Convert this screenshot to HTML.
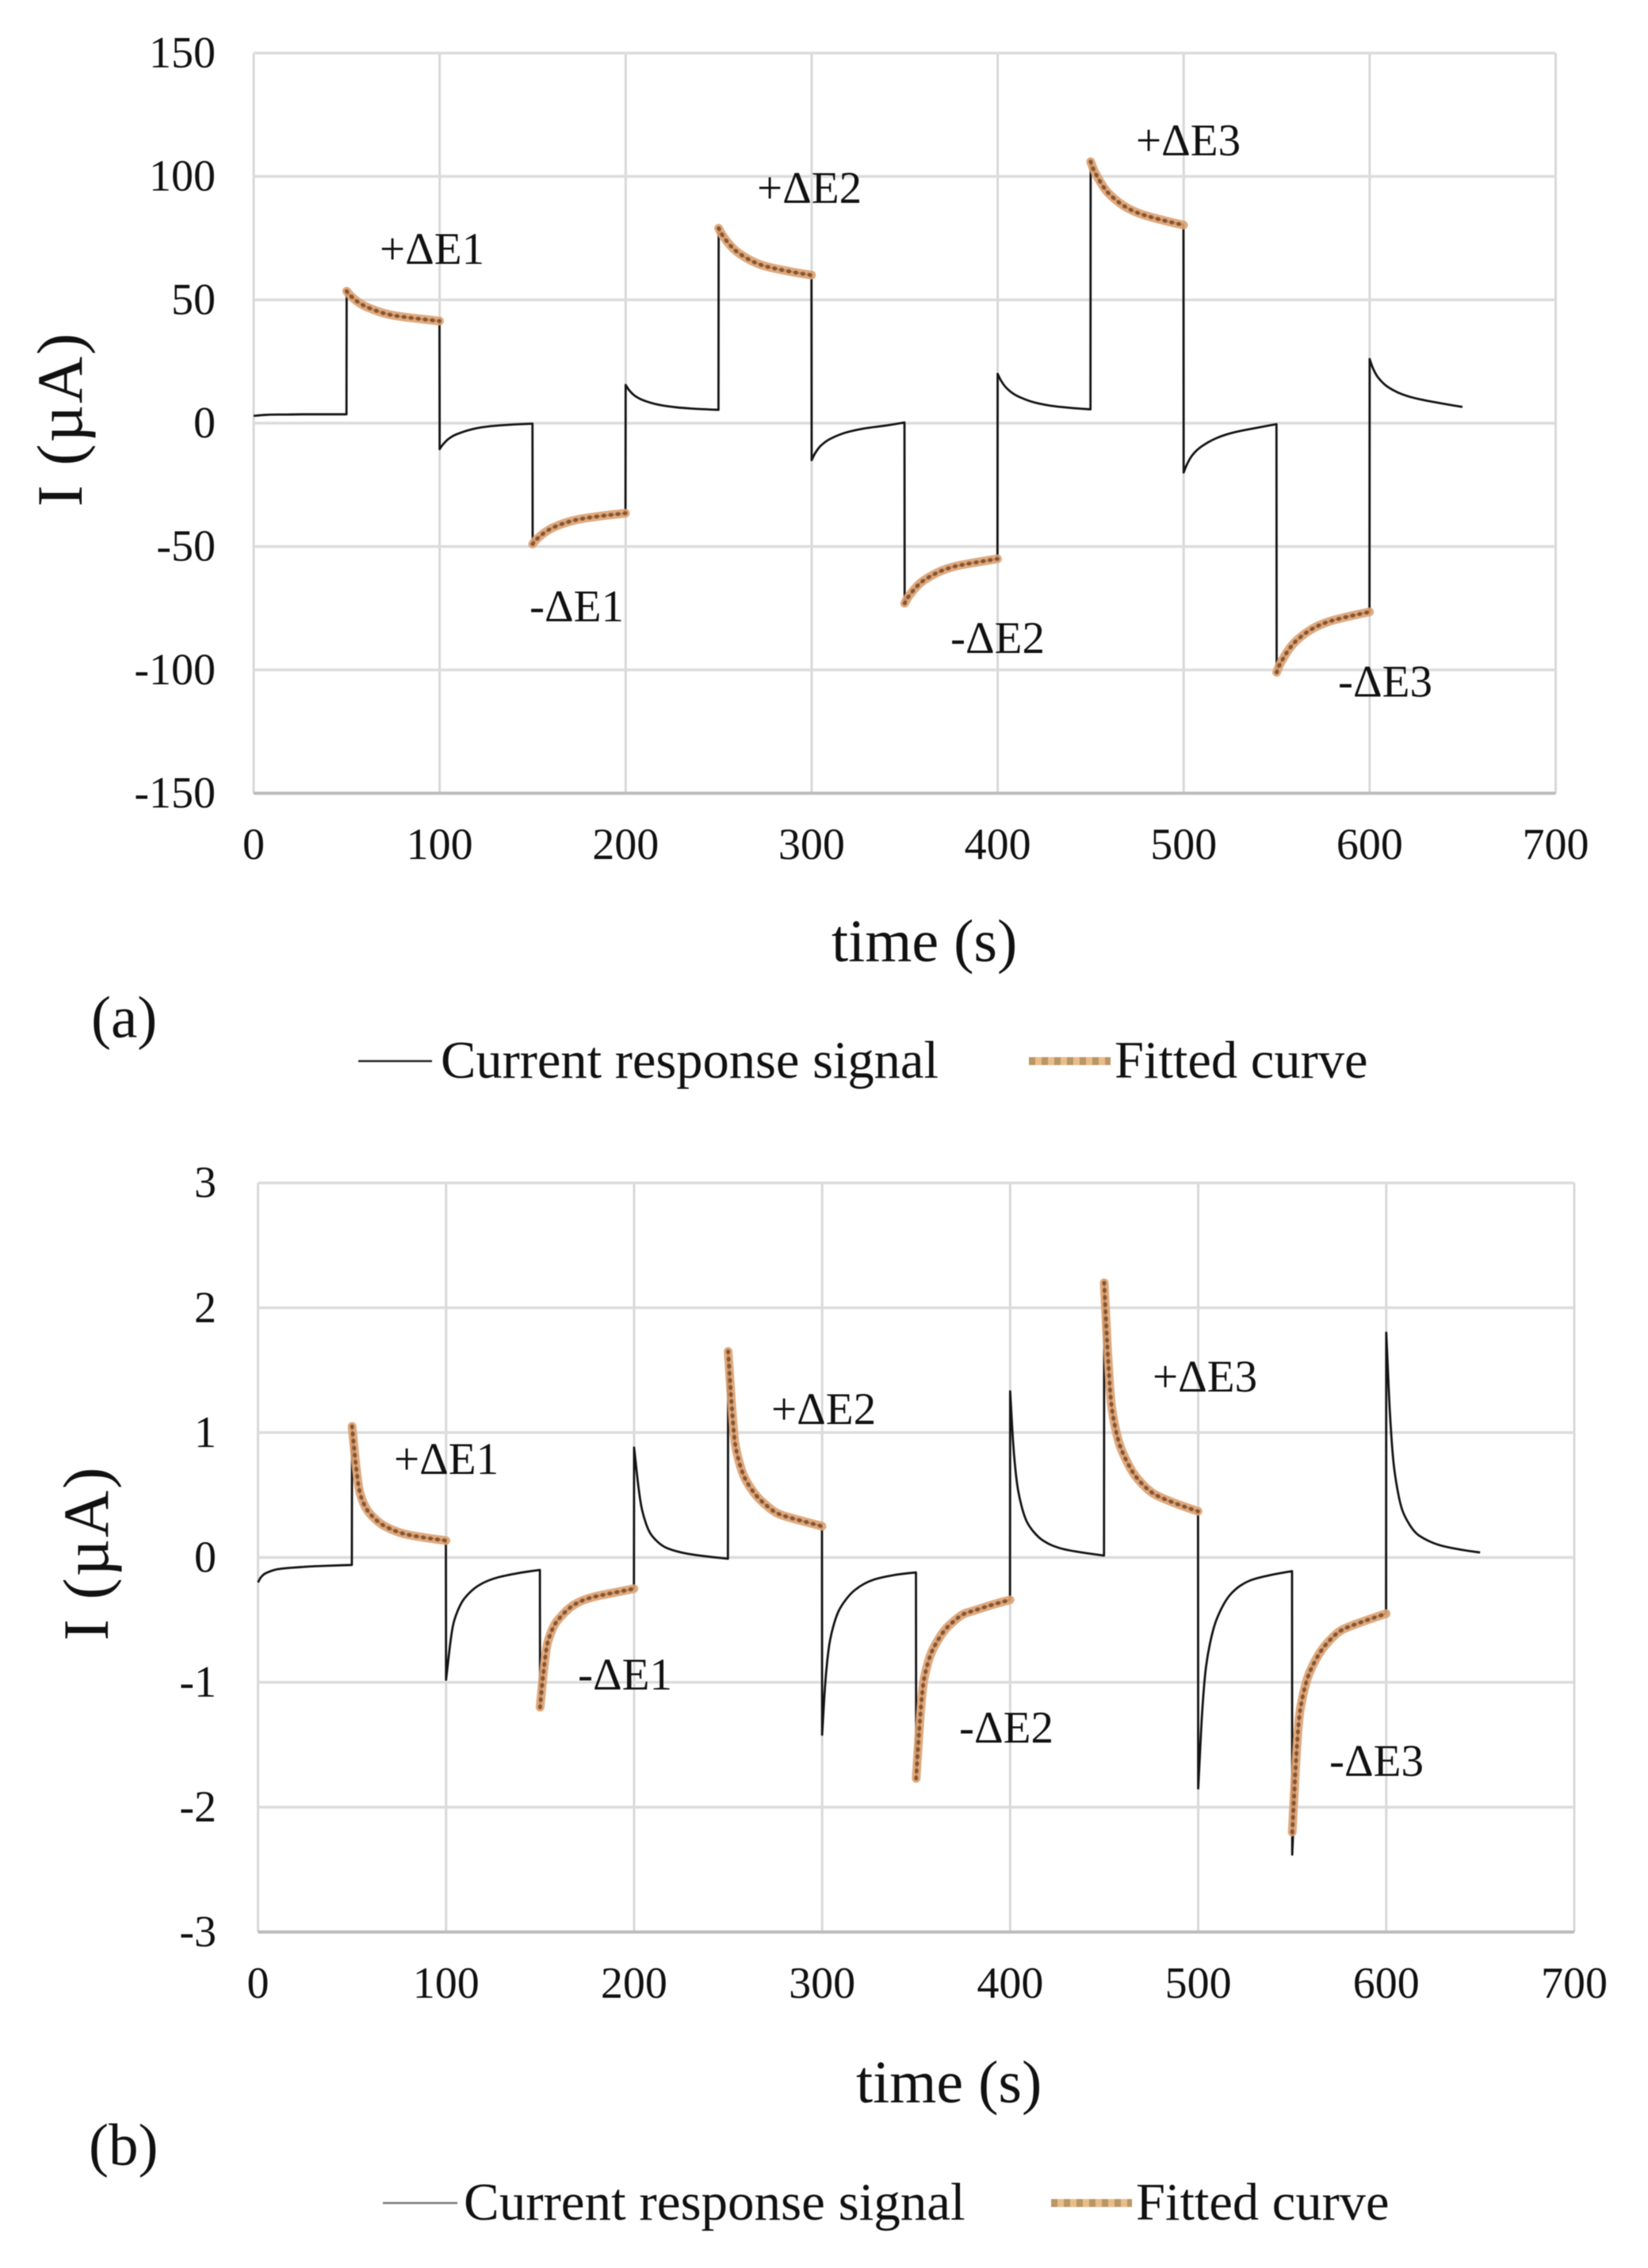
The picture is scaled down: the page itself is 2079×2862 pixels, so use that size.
<!DOCTYPE html>
<html lang="en">
<head>
<meta charset="utf-8">
<title>Current response and fitted curves</title>
<style>
html,body{margin:0;padding:0;background:#fff;}
svg{display:block;filter:blur(0.5px);}
text{font-family:"Liberation Serif","DejaVu Serif",serif;fill:#111;}
.tick{font-size:56px;}
.anno{font-size:57px;}
.title{font-size:76px;}
.ytitle{font-size:82px;letter-spacing:2px;}
.panel{font-size:75px;}
.legend{font-size:66.5px;}
</style>
</head>
<body>
<svg id="figure" xmlns="http://www.w3.org/2000/svg" width="2079" height="2862" viewBox="0 0 2079 2862">
  <rect width="2079" height="2862" fill="#ffffff"/>
  <g id="chart-a"></g>
  <g id="chart-b"></g>

  <text class="ytitle" text-anchor="middle" transform="translate(103,529) rotate(-90)">I (µA)</text>
  <text class="title" x="1049" y="1213">time (s)</text>
  <text class="panel" x="115" y="1309">(a)</text>
  <text class="anno" x="479" y="333">+ΔE1</text>
  <text class="anno" x="955" y="256">+ΔE2</text>
  <text class="anno" x="1433" y="196">+ΔE3</text>
  <text class="anno" x="668" y="784">-ΔE1</text>
  <text class="anno" x="1199" y="824">-ΔE2</text>
  <text class="anno" x="1688" y="879">-ΔE3</text>

  <g>
    <line x1="452" y1="1339" x2="545" y2="1339" stroke="#222" stroke-width="2.5"/>
    <text class="legend" x="556" y="1360">Current response signal</text>
    <line x1="1298" y1="1339" x2="1401" y2="1339" stroke="#e9bd8a" stroke-width="10"/>
    <line x1="1298" y1="1339" x2="1401" y2="1339" stroke="#a98a5a" stroke-width="10" stroke-dasharray="8 8" opacity="0.75"/>
    <text class="legend" x="1406" y="1360">Fitted curve</text>
  </g>

  <text class="ytitle" text-anchor="middle" transform="translate(136,1960) rotate(-90)">I (µA)</text>
  <text class="title" x="1080" y="2653">time (s)</text>
  <text class="panel" x="112" y="2732">(b)</text>
  <text class="anno" x="497" y="1860">+ΔE1</text>
  <text class="anno" x="973" y="1797">+ΔE2</text>
  <text class="anno" x="1454" y="1756">+ΔE3</text>
  <text class="anno" x="729" y="2132">-ΔE1</text>
  <text class="anno" x="1210" y="2199">-ΔE2</text>
  <text class="anno" x="1677" y="2241">-ΔE3</text>

  <g>
    <line x1="483" y1="2780" x2="577" y2="2780" stroke="#777" stroke-width="2.5"/>
    <text class="legend" x="585" y="2801" style="font-size:67px">Current response signal</text>
    <line x1="1326" y1="2780" x2="1428" y2="2780" stroke="#e9bd8a" stroke-width="10"/>
    <line x1="1326" y1="2780" x2="1428" y2="2780" stroke="#a98a5a" stroke-width="10" stroke-dasharray="8 8" opacity="0.75"/>
    <text class="legend" x="1433" y="2801">Fitted curve</text>
  </g>
</svg>

<script>
const xTickValues = [0, 100, 200, 300, 400, 500, 600, 700];
const yTickValuesA = [150, 100, 50, 0, -50, -100, -150];
const yTickValuesB = [3, 2, 1, 0, -1, -2, -3];

const signalSegmentStarts = [0, 50, 100, 150, 200, 250, 300, 350, 400, 450, 500, 550, 600];
const fitSegmentStarts = [50, 150, 250, 350, 450, 550];
const sampleOffsets = [0, 1, 2, 3.5, 5, 7.5, 10, 15, 20, 25, 30, 40, 49.9];

const signalValuesA = [
  3.0, 3.0, 3.1, 3.2, 3.3, 3.4, 3.5, 3.5, 3.5, 3.6, 3.6, 3.6, 3.6,
  53.5, 52.6, 51.7, 50.7, 49.7, 48.4, 47.3, 45.8, 44.5, 43.7, 43.1, 42.2, 41.4,
  -10.5, -9.4, -8.4, -7.2, -6.2, -5, -4.2, -2.9, -2, -1.4, -1, -0.5, -0.2,
  -49, -48, -47.1, -46.1, -45.1, -43.8, -42.6, -41, -39.8, -38.9, -38.3, -37.3, -36.5,
  15.5, 14.3, 13.2, 12, 11, 9.9, 9.1, 7.9, 7.1, 6.6, 6.2, 5.7, 5.4,
  79, 77.5, 76.2, 74.6, 73.1, 71, 69.3, 66.8, 64.9, 63.6, 62.7, 61.2, 60,
  -15, -13.3, -12, -10.3, -9, -7.5, -6.3, -4.6, -3.4, -2.6, -1.9, -1, 0.3,
  -73, -71.6, -70.3, -68.9, -67.4, -65.4, -63.8, -61.5, -59.7, -58.4, -57.5, -56.2, -55,
  20, 18.3, 17, 15.3, 14, 12.4, 11.2, 9.5, 8.3, 7.5, 6.9, 6.1, 5.6,
  106, 104, 102, 100, 98, 95, 92.8, 89.5, 87, 85.3, 84, 82, 80.3,
  -20, -18, -16.3, -14.2, -12.6, -10.6, -9.2, -6.9, -5.3, -4.1, -3.2, -1.8, -0.4,
  -101, -99, -97.3, -95.4, -93.4, -90.7, -88.5, -85.3, -82.9, -81.2, -79.9, -78.1, -76.5,
  26, 23.7, 21.8, 19.6, 18, 16, 14.5, 12.4, 11, 10, 9.2, 7.8, 6.6
];

const fitValuesA = [
  53.5, 52.6, 51.7, 50.7, 49.7, 48.4, 47.3, 45.8, 44.5, 43.7, 43.1, 42.2, 41.4,
  -49, -48, -47.1, -46.1, -45.1, -43.8, -42.6, -41, -39.8, -38.9, -38.3, -37.3, -36.5,
  79, 77.5, 76.2, 74.6, 73.1, 71, 69.3, 66.8, 64.9, 63.6, 62.7, 61.2, 60,
  -73, -71.6, -70.3, -68.9, -67.4, -65.4, -63.8, -61.5, -59.7, -58.4, -57.5, -56.2, -55,
  106, 104, 102, 100, 98, 95, 92.8, 89.5, 87, 85.3, 84, 82, 80.3,
  -101, -99, -97.3, -95.4, -93.4, -90.7, -88.5, -85.3, -82.9, -81.2, -79.9, -78.1, -76.5
];

const signalValuesB = [
  -0.2, -0.17, -0.15, -0.13, -0.12, -0.105, -0.095, -0.085, -0.08, -0.075, -0.07, -0.065, -0.06,
  1.05, 0.9, 0.74, 0.56, 0.47, 0.39, 0.34, 0.27, 0.23, 0.2, 0.18, 0.155, 0.135,
  -0.98, -0.85, -0.71, -0.55, -0.47, -0.38, -0.32, -0.245, -0.2, -0.17, -0.15, -0.12, -0.1,
  -1.2, -1.04, -0.89, -0.71, -0.63, -0.54, -0.49, -0.41, -0.36, -0.33, -0.31, -0.28, -0.25,
  0.88, 0.74, 0.6, 0.43, 0.33, 0.22, 0.16, 0.09, 0.06, 0.04, 0.025, 0.005, -0.01,
  1.65, 1.43, 1.19, 0.92, 0.81, 0.68, 0.6, 0.49, 0.42, 0.36, 0.33, 0.29, 0.25,
  -1.42, -1.15, -0.93, -0.72, -0.6, -0.47, -0.39, -0.29, -0.23, -0.19, -0.165, -0.135, -0.12,
  -1.77, -1.53, -1.3, -1.03, -0.91, -0.78, -0.7, -0.58, -0.51, -0.45, -0.43, -0.38, -0.34,
  1.33, 1.05, 0.82, 0.6, 0.47, 0.33, 0.25, 0.16, 0.11, 0.08, 0.06, 0.035, 0.015,
  2.2, 1.9, 1.6, 1.25, 1.1, 0.93, 0.83, 0.68, 0.59, 0.52, 0.48, 0.42, 0.37,
  -1.85, -1.55, -1.25, -0.95, -0.78, -0.6, -0.48, -0.33, -0.25, -0.2, -0.17, -0.135, -0.11,
  -2.38, -2.0, -1.65, -1.29, -1.15, -0.99, -0.89, -0.75, -0.66, -0.59, -0.555, -0.5, -0.45,
  1.8, 1.45, 1.13, 0.8, 0.62, 0.42, 0.32, 0.2, 0.15, 0.115, 0.09, 0.06, 0.04
];

const fitValuesB = [
  1.05, 0.9, 0.74, 0.56, 0.47, 0.39, 0.34, 0.27, 0.23, 0.2, 0.18, 0.155, 0.135,
  -1.2, -1.04, -0.89, -0.71, -0.63, -0.54, -0.49, -0.41, -0.36, -0.33, -0.31, -0.28, -0.25,
  1.65, 1.43, 1.19, 0.92, 0.81, 0.68, 0.6, 0.49, 0.42, 0.36, 0.33, 0.29, 0.25,
  -1.77, -1.53, -1.3, -1.03, -0.91, -0.78, -0.7, -0.58, -0.51, -0.45, -0.43, -0.38, -0.34,
  2.2, 1.9, 1.6, 1.25, 1.1, 0.93, 0.83, 0.68, 0.59, 0.52, 0.48, 0.42, 0.37,
  -2.2, -1.92, -1.62, -1.29, -1.15, -0.99, -0.89, -0.75, -0.66, -0.59, -0.555, -0.5, -0.45
];

const NS = 'http://www.w3.org/2000/svg';

function smoothSegment(points, isFirst) {
  let d = (isFirst ? 'M' : 'L') + points[0][0].toFixed(2) + ' ' + points[0][1].toFixed(2);
  for (let i = 1; i < points.length - 1; i++) {
    const mx = (points[i][0] + points[i + 1][0]) / 2;
    const my = (points[i][1] + points[i + 1][1]) / 2;
    d += ' Q' + points[i][0].toFixed(2) + ' ' + points[i][1].toFixed(2) + ' ' + mx.toFixed(2) + ' ' + my.toFixed(2);
  }
  const last = points[points.length - 1];
  d += ' L' + last[0].toFixed(2) + ' ' + last[1].toFixed(2);
  return d;
}

function drawChart(groupId, suffix, frame, yTicks, signalValues, fitValues) {
  const root = document.getElementById(groupId);
  const xScale = function (t) {
    return frame.left + t / 700 * (frame.right - frame.left);
  };
  const yMax = yTicks[0];
  const yMin = yTicks[yTicks.length - 1];
  const yScale = function (v) {
    return frame.top + (yMax - v) / (yMax - yMin) * (frame.bottom - frame.top);
  };

  xTickValues.forEach(function (tick) {
    const grid = document.createElementNS(NS, 'line');
    
    
    grid.setAttribute('x1', xScale(tick));
    grid.setAttribute('x2', xScale(tick));
    grid.setAttribute('y1', frame.top);
    grid.setAttribute('y2', frame.bottom);
    grid.setAttribute('stroke', '#d8d8d8');
    grid.setAttribute('stroke-width', '3');
    root.appendChild(grid);

    const label = document.createElementNS(NS, 'text');
    
    
    label.setAttribute('class', 'tick');
    label.setAttribute('text-anchor', 'middle');
    label.setAttribute('x', xScale(tick));
    label.setAttribute('y', frame.xLabelY);
    label.textContent = tick;
    root.appendChild(label);
  });

  yTicks.forEach(function (tick) {
    const grid = document.createElementNS(NS, 'line');
    
    
    grid.setAttribute('x1', frame.left);
    grid.setAttribute('x2', frame.right);
    grid.setAttribute('y1', yScale(tick));
    grid.setAttribute('y2', yScale(tick));
    grid.setAttribute('stroke', tick === yMin ? '#bcbcbc' : '#dcdcdc');
    grid.setAttribute('stroke-width', tick === yMin ? '4' : '3.5');
    root.appendChild(grid);

    const label = document.createElementNS(NS, 'text');
    
    
    label.setAttribute('class', 'tick');
    label.setAttribute('text-anchor', 'end');
    label.setAttribute('x', frame.yLabelX);
    label.setAttribute('y', yScale(tick) + 18);
    label.textContent = tick;
    root.appendChild(label);
  });

  let signalPath = '';
  let signalIndex = 0;
  signalSegmentStarts.forEach(function (start, s) {
    const pts = [];
    sampleOffsets.forEach(function (offset) {
      pts.push([xScale(start + offset), yScale(signalValues[signalIndex])]);
      signalIndex += 1;
    });
    signalPath += smoothSegment(pts, s === 0) + ' ';
  });
  const signal = document.createElementNS(NS, 'path');
  
  
  signal.setAttribute('d', signalPath);
  signal.setAttribute('fill', 'none');
  signal.setAttribute('stroke', '#151515');
  signal.setAttribute('stroke-width', '2.8');
  signal.setAttribute('stroke-linejoin', 'round');
  root.appendChild(signal);

  let fitIndex = 0;
  fitSegmentStarts.forEach(function (start) {
    const pts = [];
    sampleOffsets.forEach(function (offset) {
      pts.push([xScale(start + offset), yScale(fitValues[fitIndex])]);
      fitIndex += 1;
    });
    const d = smoothSegment(pts, true);

    const band = document.createElementNS(NS, 'path');
    
    
    band.setAttribute('d', d);
    band.setAttribute('fill', 'none');
    band.setAttribute('stroke', '#dca070');
    band.setAttribute('stroke-width', '11');
    band.setAttribute('stroke-linecap', 'round');
    band.setAttribute('stroke-linejoin', 'round');
    band.setAttribute('opacity', '0.9');
    root.appendChild(band);

    const dots = document.createElementNS(NS, 'path');
    
    
    dots.setAttribute('d', d);
    dots.setAttribute('fill', 'none');
    dots.setAttribute('stroke', '#7a4a28');
    dots.setAttribute('stroke-width', '5');
    dots.setAttribute('stroke-linecap', 'round');
    dots.setAttribute('stroke-dasharray', '1 8');
    dots.setAttribute('opacity', '0.85');
    root.appendChild(dots);
  });
}

drawChart('chart-a', 'a',
  { left: 320, right: 1962.5, top: 67, bottom: 1001, xLabelY: 1084, yLabelX: 272 },
  yTickValuesA, signalValuesA, fitValuesA);

drawChart('chart-b', 'b',
  { left: 325.5, right: 1986, top: 1492.7, bottom: 2438, xLabelY: 2521, yLabelX: 273 },
  yTickValuesB, signalValuesB, fitValuesB);
</script>
</body>
</html>
